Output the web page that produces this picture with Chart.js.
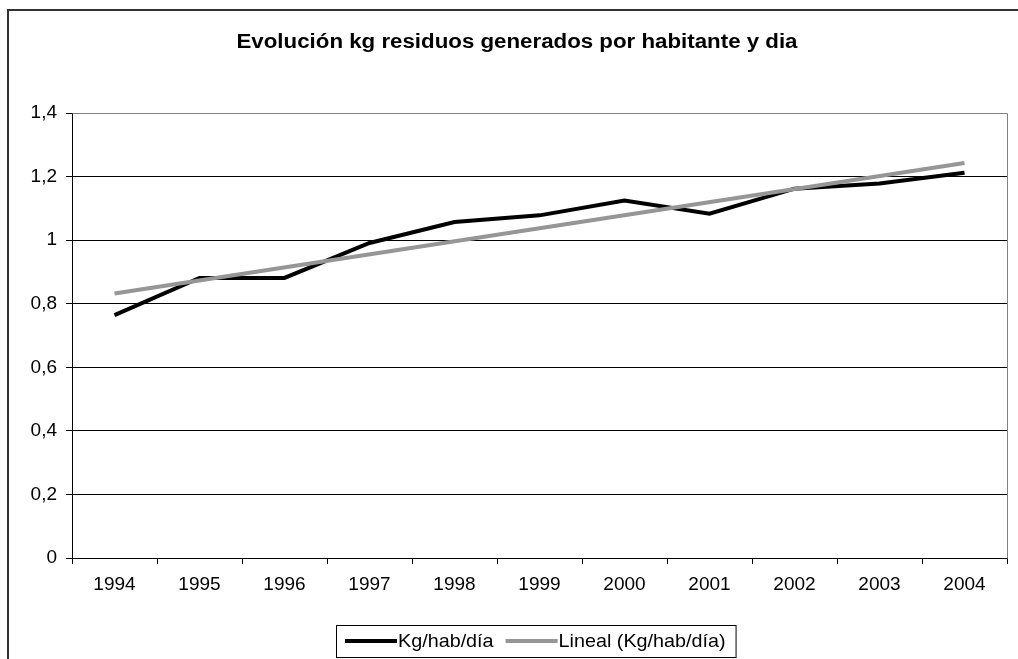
<!DOCTYPE html>
<html>
<head>
<meta charset="utf-8">
<script src="https://cdn.jsdelivr.net/npm/chart.js@4/dist/chart.umd.min.js"></script>
<style>
  html, body { margin: 0; padding: 0; background: #fff; }
  #wrap { position: relative; width: 1018px; height: 659px; }
  canvas { display: block; }
</style>
</head>
<body>
<div id="wrap"><canvas id="c" width="1018" height="659"></canvas></div>
<script>
const chartTitle = 'Evolución kg residuos generados por habitante y dia';
const years = ['1994', '1995', '1996', '1997', '1998', '1999', '2000', '2001', '2002', '2003', '2004'];
const kgHabDia = [0.764, 0.881, 0.881, 0.991, 1.057, 1.078, 1.125, 1.083, 1.162, 1.178, 1.212];
// Linear trend line: only its two visible endpoints (straight line between them)
const linealKgHabDia = [0.832, null, null, null, null, null, null, null, null, null, 1.243];
const yTickLabels = ['0', '0,2', '0,4', '0,6', '0,8', '1', '1,2', '1,4'];
const seriesNames = ['Kg/hab/día', 'Lineal (Kg/hab/día)'];

const FONT = "'Liberation Sans', Arial, sans-serif";

function stretchedText(ctx, text, x, y, sx) {
  ctx.save();
  ctx.translate(x, y);
  ctx.scale(sx, 1);
  ctx.fillText(text, 0, 0);
  ctx.restore();
}

const decorPlugin = {
  id: 'decor',
  beforeDatasetsDraw(chart) {
    const { ctx, chartArea: a } = chart;
    ctx.save();
    ctx.strokeStyle = '#808080';
    ctx.lineWidth = 1;
    ctx.beginPath();
    ctx.moveTo(Math.round(a.left) + 0.5, Math.round(a.top) + 0.5);
    ctx.lineTo(Math.round(a.right) + 0.5, Math.round(a.top) + 0.5);
    ctx.lineTo(Math.round(a.right) + 0.5, Math.round(a.bottom) + 0.5);
    ctx.stroke();
    ctx.restore();
  },
  afterDraw(chart) {
    const { ctx } = chart;
    ctx.save();
    // outer chart border (extends beyond the viewport on right and bottom)
    ctx.strokeStyle = '#333';
    ctx.lineWidth = 2;
    ctx.beginPath();
    ctx.moveTo(8, 700);
    ctx.lineTo(8, 10);
    ctx.lineTo(1100, 10);
    ctx.stroke();
    // title
    ctx.fillStyle = '#000';
    ctx.font = 'bold 20px ' + FONT;
    ctx.textAlign = 'center';
    ctx.textBaseline = 'middle';
    const tw = ctx.measureText(chartTitle).width;
    stretchedText(ctx, chartTitle, 517, 42, 561 / tw);
    // legend
    ctx.font = '19px ' + FONT;
    ctx.textAlign = 'left';
    const sx = 1.04;
    const ds = chart.data.datasets;
    const sample = 52, gap = 12, cy = 641;
    let x = 345;
    const startX = x;
    const items = [];
    ds.forEach(d => {
      const w = ctx.measureText(d.label).width * sx;
      items.push({ d, x, w });
      x += sample + 1 + w + gap;
    });
    const endX = x - gap + 11;
    ctx.strokeStyle = '#000';
    ctx.lineWidth = 1;
    ctx.strokeRect(startX - 8.5, 625.5, endX - (startX - 8), 32);
    items.forEach(it => {
      ctx.strokeStyle = it.d.borderColor;
      ctx.lineWidth = 4;
      ctx.beginPath();
      ctx.moveTo(it.x, cy);
      ctx.lineTo(it.x + sample, cy);
      ctx.stroke();
      ctx.fillStyle = '#000';
      stretchedText(ctx, it.d.label, it.x + sample + 1, cy + 1, sx);
    });
    ctx.restore();
  }
};

new Chart(document.getElementById('c'), {
  type: 'line',
  data: {
    labels: years,
    datasets: [
      {
        label: seriesNames[0],
        data: kgHabDia,
        borderColor: '#000000',
        borderWidth: 4,
        pointRadius: 0,
        tension: 0,
        fill: false,
        order: 1
      },
      {
        label: seriesNames[1],
        data: linealKgHabDia,
        borderColor: '#969696',
        borderWidth: 4,
        pointRadius: 0,
        tension: 0,
        spanGaps: true,
        fill: false,
        order: 0
      }
    ]
  },
  options: {
    responsive: false,
    animation: false,
    events: [],
    layout: { padding: { top: 113, right: 11, bottom: 0, left: 0 } },
    plugins: {
      legend: { display: false },
      title: { display: false },
      tooltip: { enabled: false }
    },
    scales: {
      x: {
        type: 'category',
        offset: true,
        afterFit(s) { s.height = 101; },
        grid: {
          offset: true,
          drawOnChartArea: false,
          drawTicks: true,
          tickLength: 6,
          color: '#000'
        },
        border: { display: true, color: '#000', width: 1 },
        ticks: {
          color: '#000',
          font: { family: FONT, size: 19 },
          padding: 9,
          maxRotation: 0,
          autoSkip: false
        }
      },
      y: {
        min: 0,
        max: 1.4,
        afterFit(s) { s.width = 72; },
        grid: {
          color: '#000',
          lineWidth: 1,
          drawTicks: true,
          tickLength: 6
        },
        border: { display: true, color: '#000', width: 1 },
        ticks: {
          stepSize: 0.2,
          color: '#000',
          font: { family: FONT, size: 19 },
          padding: 9,
          callback: (v, i) => yTickLabels[i]
        }
      }
    }
  },
  plugins: [decorPlugin]
});
</script>
</body>
</html>
